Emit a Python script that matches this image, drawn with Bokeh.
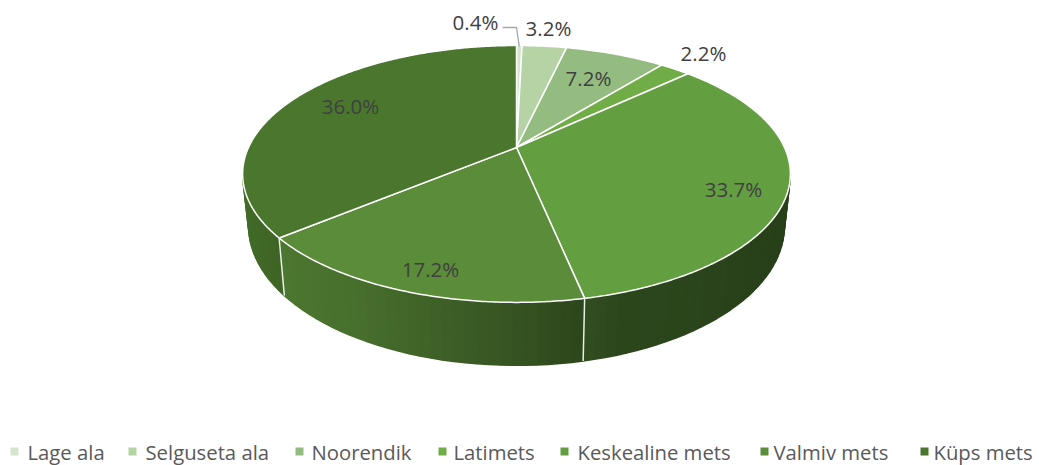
import numpy as np
from bokeh.plotting import figure
from bokeh.models import Range1d, ColumnDataSource
from bokeh.core.properties import value
from bokeh.embed import file_html
from bokeh.resources import INLINE

# ---------------- data ----------------
categories = ["Lage ala", "Selguseta ala", "Noorendik", "Latimets",
              "Keskealine mets", "Valmiv mets", "Küps mets"]
shares = [0.4, 3.2, 7.2, 2.2, 33.7, 17.2, 36.0]
label_texts = ["0.4%", "3.2%", "7.2%", "2.2%", "33.7%", "17.2%", "36.0%"]
colors = ["#d3e5ca", "#b5d3a5", "#94bc80", "#70ad47", "#639e40", "#5a8c39", "#4a772d"]

# ---------------- layout (pixel space) ----------------
label_x = [475, 548, 588, 703, 733, 430, 350]
label_y = [21, 27, 77, 52, 188, 268, 105]
legend_marker_x = [14, 132, 299, 442, 564, 764, 924]
legend_text_x = [27, 145, 311, 453, 577, 773, 933]
legend_y = 451

CX, CY = 516.0, 147.0
R = 268.0
PC = 0.206        # perspective coefficient
PB = -92.7
THICK = 50.0
BSCALE = 0.978    # convergence of vertical edges


def proj(theta):
    u = np.sin(theta)
    w = np.cos(theta)
    d = 1 + PC * w
    x = CX + R * u / d
    y = (CY + PB * w) / d
    return x, y


def proj_bottom(theta):
    x, y = proj(theta)
    w = np.cos(theta)
    d = 1 + PC * w
    return CX + (x - CX) * BSCALE, y + THICK / d


def shade(hexcol, f):
    h = hexcol.lstrip("#")
    r, g, b = int(h[0:2], 16), int(h[2:4], 16), int(h[4:6], 16)
    return "#%02x%02x%02x" % (int(r * f), int(g * f), int(b * f))


total = sum(shares)
bounds = np.concatenate([[0], np.cumsum(shares) / total]) * 2 * np.pi

p = figure(width=1039, height=465, output_backend="svg", toolbar_location=None,
           x_range=Range1d(0, 1039), y_range=Range1d(465, 0),
           min_border=0, outline_line_color=None)
p.axis.visible = False
p.grid.visible = False
p.background_fill_color = "white"
p.border_fill_color = "white"

# ---------------- side walls ----------------
vis_lo = np.pi / 2 + np.arcsin(PC)
vis_hi = 3 * np.pi / 2 - np.arcsin(PC)
sx, sy, sc = [], [], []
for i in range(len(shares)):
    a0 = max(bounds[i], vis_lo)
    a1 = min(bounds[i + 1], vis_hi)
    if a1 <= a0:
        continue
    n = max(2, int(np.degrees(a1 - a0) / 2) + 1)
    ts = np.linspace(a0, a1, n)
    for j in range(n - 1):
        t0, t1 = ts[j], ts[j + 1]
        x0, y0 = proj(t0)
        x1, y1 = proj(t1)
        bx1, by1 = proj_bottom(t1)
        bx0, by0 = proj_bottom(t0)
        sx.append([x0, x1, bx1, bx0])
        sy.append([y0, y1, by1, by0])
        um = np.sin((t0 + t1) / 2)
        f = np.interp(um, [-1, -0.5, 0, 0.3, 1], [0.9, 0.8, 0.6, 0.45, 0.4])
        sc.append(shade(colors[i], f))
side_src = ColumnDataSource(dict(xs=sx, ys=sy, c=sc))
p.patches("xs", "ys", source=side_src, fill_color="c", line_color="c", line_width=1.5)

# vertical white edges on the side
for b in bounds[1:-1]:
    if vis_lo < b < vis_hi:
        x0, y0 = proj(b)
        x1, y1 = proj_bottom(b)
        p.line([x0, x1], [y0, y1], line_color="white", line_width=1.5, line_alpha=0.9)

# ---------------- top face ----------------
tx, ty = [], []
for i in range(len(shares)):
    n = max(3, int(np.degrees(bounds[i + 1] - bounds[i]) * 2) + 2)
    ts = np.linspace(bounds[i], bounds[i + 1], n)
    xs, ys = proj(ts)
    tx.append([CX] + list(xs))
    ty.append([CY] + list(ys))
top_src = ColumnDataSource(dict(xs=tx, ys=ty, c=colors))
p.patches("xs", "ys", source=top_src, fill_color="c", line_color="white",
          line_width=1.5, line_join="round")

# ---------------- data labels ----------------
lab_src = ColumnDataSource(dict(x=label_x, y=label_y, t=label_texts))
p.text("x", "y", text="t", source=lab_src, text_font=value("Open Sans"),
       text_font_size="20.5px", text_color="#404040",
       text_align="center", text_baseline="middle")

# leader line for the tiny slice
lx, ly = proj((bounds[0] + bounds[1]) / 2)
p.line([502, 516, lx], [27, 27, ly + 1], line_color="#a6a6a6", line_width=1.3)

# ---------------- legend ----------------
leg_src = ColumnDataSource(dict(mx=legend_marker_x, tx=legend_text_x,
                                y=[legend_y] * len(categories),
                                c=colors, t=categories))
p.rect("mx", "y", width=8, height=8, source=leg_src, fill_color="c", line_color=None)
p.text("tx", "y", text="t", source=leg_src, text_font=value("Open Sans"),
       text_font_size="20.3px", text_color="#595959",
       text_align="left", text_baseline="middle")

open("out.html", "w").write(file_html(p, INLINE))
